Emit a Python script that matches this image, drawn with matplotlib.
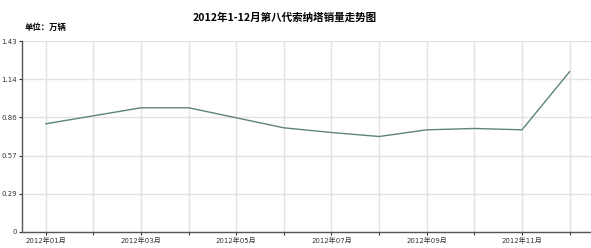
import numpy as np
import matplotlib
matplotlib.use("Agg")
import matplotlib.pyplot as plt

# Data
months = ["2012年01月", "2012年02月", "2012年03月", "2012年04月", "2012年05月", "2012年06月",
          "2012年07月", "2012年08月", "2012年09月", "2012年10月", "2012年11月", "2012年12月"]
sales = [0.81, 0.87, 0.93, 0.93, 0.855, 0.78, 0.745, 0.715, 0.765, 0.775, 0.765, 1.20]
y_ticks = [0, 0.286, 0.572, 0.858, 1.144, 1.43]
y_labels = ["0", "0.29", "0.57", "0.86", "1.14", "1.43"]

plt.rcParams['font.family'] = ['DejaVu Sans', 'Noto Sans CJK SC']

fig = plt.figure(figsize=(5.91, 2.48), dpi=100)
ax = fig.add_axes([22 / 591, 16 / 248, 1 - 22 / 591, (232 - 41) / 248])

x = np.arange(len(months))
ax.plot(x, sales, color="#5d8575", linewidth=1.0)

ax.set_xlim(-0.5, 11.45)
ax.set_ylim(0, 1.43)
ax.set_xticks(x)
ax.set_xticklabels([m if i % 2 == 0 else "" for i, m in enumerate(months)])
ax.set_yticks(y_ticks)
ax.set_yticklabels(y_labels)

ax.grid(True, color="#e2e2e2", linewidth=1.0)
ax.set_axisbelow(True)
for s in ["top", "right"]:
    ax.spines[s].set_visible(False)
for s in ["left", "bottom"]:
    ax.spines[s].set_color("#555555")
    ax.spines[s].set_linewidth(1.0)
ax.tick_params(axis="both", labelsize=5, colors="#333333", length=2.5, width=0.8, pad=1)
for lbl in ax.get_xticklabels() + ax.get_yticklabels():
    lbl.set_family(['DejaVu Sans', 'Noto Sans CJK SC'])

fig.text(285 / 591, 1 - 18 / 248, "2012年1-12月第八代索纳塔销量走势图", ha="center", va="center",
         fontsize=7.6, fontweight="bold", family=['Noto Sans CJK SC', 'DejaVu Sans'])
fig.text(25 / 591, 1 - 27 / 248, "单位：万辆", ha="left", va="center",
         fontsize=6, fontweight="bold", family=['Noto Sans CJK SC', 'DejaVu Sans'])

fig.savefig("out.png", dpi=100)
